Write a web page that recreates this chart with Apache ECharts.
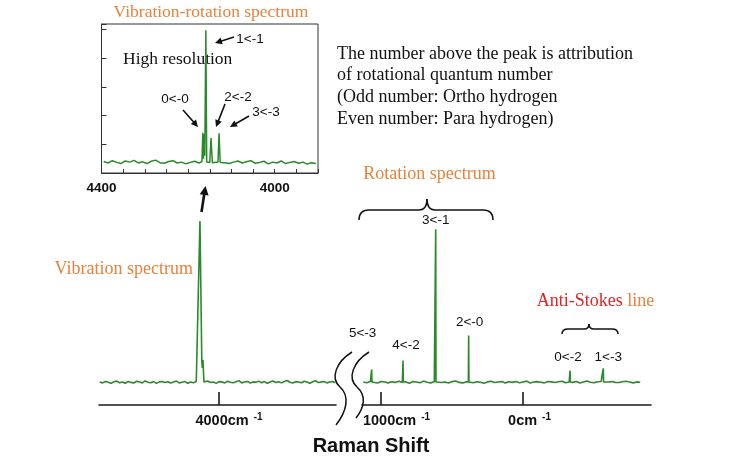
<!DOCTYPE html>
<html><head><meta charset="utf-8">
<script src="https://cdn.jsdelivr.net/npm/echarts@6/dist/echarts.min.js"></script>
<style>html,body{margin:0;padding:0;background:#fff}#c{width:731px;height:463px}</style>
</head><body><div id="c"></div>
<script>
// ---------- data ----------
// main spectrum, vibration region (cm-1), baseline sampled every 20 cm-1 from 4840
const vibStart = 4840, vibStep = -20;
const vibNoise = [0.2,-0.3,0.5,0.1,-0.6,0.4,0.8,-0.2,0.3,-0.5,0.6,0.0,-0.4,0.7,0.2,-0.3,0.9,0.1,-0.2,0.5,
  -0.6,0.3,0.6,-0.1,0.4,-0.4,0.2,0.8,-0.3,0.1,0.5,-0.5,0.3,-0.2,0.6,0.0,-0.4,0.4,0.9,-0.1,
  0.2,-0.6,0.5,0.3,-0.3,0.7,0.1,-0.2,0.4,1.1,-0.3,0.2,0.6,-0.4,0.3,0.0,0.8,-0.2,0.5,-0.5,
  0.3,0.9,-0.1,0.4,-0.3,0.6,1.2,0.1,-0.4,0.5,0.2,-0.2,0.7,0.3,-0.5,0.4,1.0,-0.1,0.3,0.6,
  -0.3,0.2,0.5,-0.2];
const vibPeakX = [4150, 4134, 4121, 4117, 4113, 4106];
const vibPeakY = [0.2, 100, 13, 9, 14, 0.3];

// main spectrum, rotation region (cm-1), baseline sampled every 25 cm-1 from 1125
const rotStart = 1125, rotStep = -25;
const rotNoise = [0.3,-0.2,0.5,0.1,-0.4,0.6,0.2,-0.3,0.4,0.0,
  0.7,-0.1,0.3,-0.5,0.5,0.2,-0.2,0.8,0.1,-0.3,
  0.4,0.6,-0.1,0.2,-0.4,0.5,0.9,0.0,-0.3,0.3,
  0.6,-0.2,0.4,0.1,-0.5,0.3,0.7,-0.1,0.2,0.5,
  -0.3,0.4,0.0,0.6,-0.2,0.3,0.8,-0.4,0.2,0.5,
  0.1,-0.3,0.6,0.3,-0.1,0.4,0.7,-0.2,0.2,0.0,
  0.5,-0.4,0.3,0.9,0.1,-0.2,0.4,0.6,-0.3,0.2,
  0.5,0.0,-0.1,0.4,0.7,0.2,-0.3,0.3,0.1];
const rotPeakX = [1066, 845, 615, 383, -331, -565];
const rotPeakY = [8, 13.6, 94.8, 29.1, 7.4, 8.7];
const rotPeakFoot = 0.2;
const rotPeakLabels = ['5<-3', '4<-2', '3<-1', '2<-0', '0<-2', '1<-3'];

// inset (high resolution), baseline sampled every 10 cm-1 from 4395
const insStart = 4395, insStep = -10;
const insNoise = [0.40,0.35,0.43,0.37,0.33,0.42,0.38,0.44,0.35,0.39,
  0.33,0.41,0.45,0.36,0.34,0.40,0.43,0.35,0.38,0.32,
  0.37,0.41,0.35,0.42,0.38,0.34,0.40,0.44,0.36,0.33,
  0.38,0.42,0.35,0.39,0.43,0.34,0.37,0.41,0.32,0.38,
  0.35,0.42,0.33,0.37,0.40,0.34,0.38,0.31,0.36,0.33];
const insPeakX = [4168, 4166, 4164.5, 4163, 4161.5, 4159, 4157, 4150, 4147, 4144, 4131, 4128.5, 4126];
const insPeakY = [0.40, 1.40, 0.50, 1.35, 0.60, 4.98, 0.38, 0.37, 1.22, 0.36, 0.38, 1.39, 0.37];
const insPeakLabels = ['0<-0', '1<-1', '2<-2', '3<-3'];

// tick labels
const vibTicks = [4000];
const rotTicks = [1000, 0];
const insLabelTicks = [4400, 4000];

// ---------- build series data ----------
function build(start, step, noise, px, py, lo, hi) {
  const pts = noise.map((v, i) => [start + i * step, v]).filter(p => p[0] < lo || p[0] > hi);
  px.forEach((x, i) => pts.push([x, py[i]]));
  pts.sort((a, b) => b[0] - a[0]);
  return pts;
}
const vibData = build(vibStart, vibStep, vibNoise, vibPeakX, vibPeakY, 4104, 4152);
const rotPX = [], rotPY = [];
rotPeakX.forEach((x, i) => { rotPX.push(x + 2, x, x - 2); rotPY.push(rotPeakFoot, rotPeakY[i], rotPeakFoot); });
const rotData = build(rotStart, rotStep, rotNoise, rotPX, rotPY, 1e9, -1e9);
const insData = build(insStart, insStep, insNoise, insPeakX, insPeakY, 4124, 4170);

// ---------- styling helpers ----------
const GREEN = '#2a8a2a', ORANGE = '#e8823c', RED = '#e02424', INK = '#111';
const SERIF = '"Liberation Serif", "Times New Roman", serif';
const SANS = '"Liberation Sans", Arial, sans-serif';

const labelOffsets = [[-9, -36], [3, -15], [0, -9], [1, -13], [-2, -13], [5, -11]];
const rotMarks = rotPeakX.map((x, i) => ({
  coord: [x, rotPeakY[i]],
  label: { formatter: rotPeakLabels[i], offset: labelOffsets[i] }
}));

const axisRich = {
  p4000: { width: 20 }, p1000: { width: 31 }, p0: { width: 13 }, sp: { width: 5 },
  a: { fontSize: 14.5, fontWeight: 'bold', fontFamily: SANS, color: INK, lineHeight: 18 },
  b: { fontSize: 10, fontWeight: 'bold', fontFamily: SANS, color: INK, lineHeight: 12, verticalAlign: 'top' }
};
function axisFmt(v) { return '{p' + v + '| }{a|' + v + 'cm}{sp| }{b|-1}'; }

function mainX(gridIndex, min, max, ticks) {
  return {
    type: 'value', gridIndex, min, max, inverse: true,
    axisLine: { show: true, onZero: false, lineStyle: { color: '#1a1a1a', width: 1.6 } },
    axisTick: { show: true, inside: true, length: 13, customValues: ticks, lineStyle: { color: '#1a1a1a', width: 1.6 } },
    axisLabel: { show: true, customValues: ticks, margin: 7, formatter: axisFmt, rich: axisRich },
    splitLine: { show: false }
  };
}

function arrow(x1, y1, x2, y2, lw, hl, hw) {
  const dx = x2 - x1, dy = y2 - y1, L = Math.hypot(dx, dy), ux = dx / L, uy = dy / L;
  const bx = x2 - ux * hl, by = y2 - uy * hl, px = -uy, py = ux;
  return [
    { type: 'line', shape: { x1, y1, x2: bx + ux, y2: by + uy }, style: { stroke: INK, lineWidth: lw } },
    { type: 'polygon', shape: { points: [[x2, y2], [bx + px * hw / 2, by + py * hw / 2], [bx - px * hw / 2, by - py * hw / 2]] }, style: { fill: INK } }
  ];
}
function txt(text, x, y, font, fill, align, extra) {
  return { type: 'text', x, y, style: Object.assign({ text, font, fill, textAlign: align || 'center', textVerticalAlign: 'middle' }, extra || {}) };
}
// simple absolute path (M/L/Q/C) -> line / bezierCurve elements
function strokePath(d, lw) {
  const tok = d.match(/[MLQC]|-?\d*\.?\d+/g);
  const els = []; let i = 0, cx = 0, cy = 0, cmd = 'M';
  const st = { stroke: INK, lineWidth: lw, fill: null };
  while (i < tok.length) {
    if (/[MLQC]/.test(tok[i])) cmd = tok[i++];
    const n = () => parseFloat(tok[i++]);
    if (cmd === 'M') { cx = n(); cy = n(); }
    else if (cmd === 'L') { const x = n(), y = n(); els.push({ type: 'line', shape: { x1: cx, y1: cy, x2: x, y2: y }, style: st }); cx = x; cy = y; }
    else if (cmd === 'Q') { const a = n(), b = n(), x = n(), y = n(); els.push({ type: 'bezierCurve', shape: { x1: cx, y1: cy, cpx1: a, cpy1: b, x2: x, y2: y }, style: st }); cx = x; cy = y; }
    else if (cmd === 'C') { const a = n(), b = n(), c = n(), e = n(), x = n(), y = n(); els.push({ type: 'bezierCurve', shape: { x1: cx, y1: cy, cpx1: a, cpy1: b, cpx2: c, cpy2: e, x2: x, y2: y }, style: st }); cx = x; cy = y; }
  }
  return els;
}

const graphics = [
  txt('Vibration-rotation spectrum', 211, 12, '17.5px ' + SERIF, ORANGE),
  txt('High resolution', 123, 59, '17.5px ' + SERIF, INK, 'left'),
  { type: 'text', x: 337, y: 43, style: { text: 'The number above the peak is attribution\nof rotational quantum number\n(Odd number: Ortho hydrogen\nEven number: Para hydrogen)', font: '18px ' + SERIF, fill: INK, textAlign: 'left', textVerticalAlign: 'top', lineHeight: 21.7 } },
  txt('Rotation spectrum', 429.5, 174, '18px ' + SERIF, ORANGE),
  txt('Vibration spectrum', 193, 269, '18px ' + SERIF, ORANGE, 'right'),
  { type: 'text', x: 595.5, y: 301, style: { text: '{r|Anti-Stokes }{o|line}', font: '18px ' + SERIF, textAlign: 'center', textVerticalAlign: 'middle',
      rich: { r: { fill: RED, font: '18px ' + SERIF }, o: { fill: ORANGE, font: '18px ' + SERIF } } } },
  txt('Raman Shift', 371, 446, 'bold 20px ' + SANS, INK),
  txt(insPeakLabels[0], 175, 99, '13.5px ' + SANS, INK),
  txt(insPeakLabels[1], 250, 39, '13.5px ' + SANS, INK),
  txt(insPeakLabels[2], 238, 97, '13.5px ' + SANS, INK),
  txt(insPeakLabels[3], 266, 112, '13.5px ' + SANS, INK)
].concat(
  strokePath('M359,220 Q359,210 369,210 L419,210 Q427,210 427,199 Q427,210 435,210 L483,210 Q493,210 493,220', 1.5),
  strokePath('M562,334 Q562,329 568,329 L584,329 Q589,329 589,324 Q589,329 594,329 L612,329 Q618,329 618,334', 1.5),
  strokePath('M352,352 C336,362 330,378 340,387 C350,396 347,411 336,425', 1.5),
  strokePath('M369,352 C353,362 347,378 357,387 C367,396 364,408 356,418', 1.5),
  arrow(234, 37, 215, 43, 1.6, 7, 7),
  arrow(183, 110, 198, 127, 1.6, 7, 7),
  arrow(225, 104, 216, 127, 1.6, 7, 7),
  arrow(249, 116, 230, 127, 1.6, 7, 7),
  arrow(201.5, 212, 205.5, 186, 2.6, 9, 9)
);

const chart = echarts.init(document.getElementById('c'), null, { renderer: 'canvas' });
chart.setOption({
  animation: false,
  backgroundColor: '#fff',
  grid: [
    { left: 101.5, top: 24, width: 216.5, height: 149, show: true, borderColor: '#333', borderWidth: 1, backgroundColor: 'transparent', containLabel: false },
    { left: 99, top: 219, width: 237, height: 186, containLabel: false },
    { left: 362, top: 219, width: 289, height: 186, containLabel: false }
  ],
  xAxis: [
    {
      type: 'value', gridIndex: 0, min: 3900, max: 4400, interval: 50, inverse: true,
      axisLine: { show: true, onZero: false, lineStyle: { color: '#333', width: 1 } },
      axisTick: { show: true, inside: true, length: 4, lineStyle: { color: '#333', width: 1 } },
      axisLabel: { show: true, margin: 8, color: INK, fontFamily: SANS, fontWeight: 'bold', fontSize: 13.5,
        formatter: v => insLabelTicks.indexOf(v) >= 0 ? String(v) : '' },
      splitLine: { show: false }
    },
    mainX(1, 3176, 4845, vibTicks),
    mainX(2, -901, 1134, rotTicks)
  ],
  yAxis: [
    { type: 'value', gridIndex: 0, min: 0, max: 5.2, interval: 1,
      axisLine: { show: true, onZero: false, lineStyle: { color: '#333', width: 1 } },
      axisTick: { show: true, inside: true, length: 5, lineStyle: { color: '#333', width: 1 } },
      axisLabel: { show: false }, splitLine: { show: false } },
    { type: 'value', gridIndex: 1, min: -14, max: 101.2, show: false, splitLine: { show: false } },
    { type: 'value', gridIndex: 2, min: -14, max: 101.2, show: false, splitLine: { show: false } }
  ],
  series: [
    { type: 'line', xAxisIndex: 0, yAxisIndex: 0, data: insData, showSymbol: false, lineStyle: { color: GREEN, width: 1.5 }, itemStyle: { color: GREEN } },
    { type: 'line', xAxisIndex: 1, yAxisIndex: 1, data: vibData, showSymbol: false, lineStyle: { color: GREEN, width: 1.6 }, itemStyle: { color: GREEN } },
    { type: 'line', xAxisIndex: 2, yAxisIndex: 2, data: rotData, showSymbol: false, lineStyle: { color: GREEN, width: 1.6 }, itemStyle: { color: GREEN },
      markPoint: { symbol: 'circle', symbolSize: 1, itemStyle: { color: 'rgba(0,0,0,0)' }, silent: true,
        label: { show: true, position: 'inside', color: INK, fontFamily: SANS, fontSize: 13.5 },
        data: rotMarks } }
  ],
  graphic: graphics
});
</script></body></html>
